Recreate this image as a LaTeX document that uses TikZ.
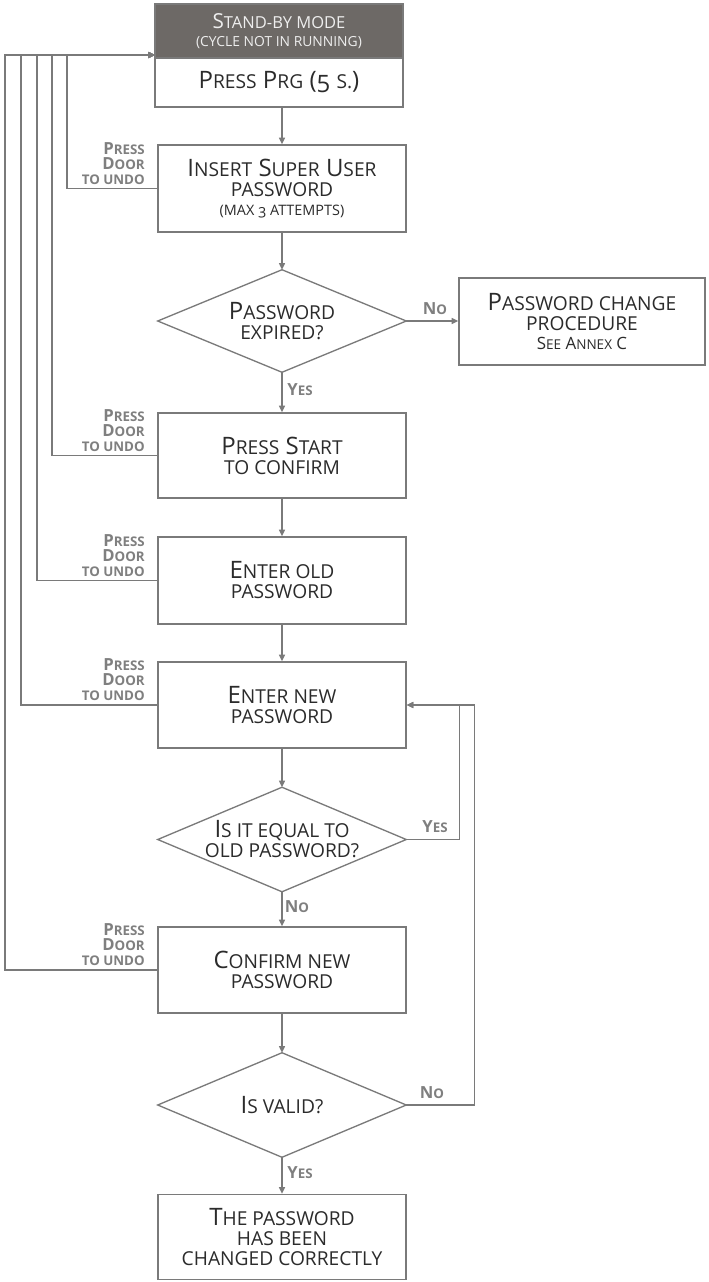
\documentclass[tikz,border=0pt]{standalone}
\usepackage{fontspec}
\setmainfont{Open Sans}[Numbers=OldStyle]
\usetikzlibrary{arrows.meta}
\definecolor{linec}{HTML}{7A7A7A}
\definecolor{txt}{HTML}{2B2B2B}
\definecolor{lab}{HTML}{7F7F7F}
\definecolor{headc}{HTML}{6D6966}
\definecolor{headtxt}{HTML}{EEEEEE}
\makeatletter
\newcommand\lc[1]{{\@tempdima=\f@size pt\relax\@tempdima=0.8\@tempdima\relax\fontsize{\the\@tempdima}{\f@baselineskip}\selectfont\MakeUppercase{#1}}}
\makeatother
\begin{document}
\begin{tikzpicture}[x=0.75pt,y=-0.75pt,
  line/.style={draw=linec, line width=1pt},
  arr/.style={line, -{Triangle[length=5pt,width=4.5pt]}},
  box/.style={draw=linec, line width=1pt, fill=white, minimum width=186pt, inner sep=0pt, align=center, text=txt, font=\fontsize{18}{15}\selectfont},
  dia/.style={minimum width=186pt, inner sep=0pt, align=center, text=txt, font=\fontsize{18}{15}\selectfont},
  undo/.style={anchor=south east, inner sep=0pt, align=right, text=lab, font=\bfseries\fontsize{12.5}{11.25}\selectfont},
  yn/.style={inner sep=0pt, text=lab, font=\bfseries\fontsize{12.5}{11.25}\selectfont}]
\useasboundingbox (0,0) rectangle (708,1282);

% boxes
\node[box, fill=headc, text=headtxt, minimum height=40.5pt, font=\fontsize{15.5}{13.5}\selectfont] (head) at (279,31) {S\lc{tand-by mode}\\{\fontsize{13}{13.5}\selectfont\lc{(cycle not in running)}}};
\node[box, minimum height=36.75pt] (prg) at (279,82.5) {P\lc{ress} P\lc{rg} (5 \lc{s.})};
\node[box, minimum height=65.25pt] (ins) at (282,188.5) {I\lc{nsert} S\lc{uper} U\lc{ser}\\\lc{password}\\[-1pt]{\fontsize{13.5}{15}\selectfont\lc{(max 3 attempts)}}};
\node[dia, minimum height=76.5pt] (d1) at (282,321) {P\lc{assword}\\\lc{expired?}};
\node[box, minimum width=184.5pt, minimum height=65.25pt] (chg) at (582,321.5) {P\lc{assword change}\\\lc{procedure}\\[-1pt]{\fontsize{12.7}{15}\selectfont S\lc{ee} A\lc{nnex} C}};
\node[box, minimum height=63.75pt] (start) at (282,455.5) {P\lc{ress} S\lc{tart}\\\lc{to confirm}};
\node[box, minimum height=65.25pt] (old) at (282,580.5) {E\lc{nter old}\\\lc{password}};
\node[box, minimum height=64.5pt] (new) at (282,705) {E\lc{nter new}\\\lc{password}};
\node[dia, minimum height=78pt] (d2) at (282,839.5) {I\lc{s it equal to}\\\lc{old password?}};
\node[box, minimum height=64.5pt] (conf) at (282,970) {C\lc{onfirm new}\\\lc{password}};
\node[dia, minimum height=78pt] (d3) at (282,1105) {I\lc{s valid?}};
\node[box, minimum height=63.75pt] (fin) at (282,1237) {T\lc{he password}\\\lc{has been}\\\lc{changed correctly}};

% diamonds
\draw[line] (d1.north) -- (d1.east) -- (d1.south) -- (d1.west) -- cycle;
\draw[line] (d2.north) -- (d2.east) -- (d2.south) -- (d2.west) -- cycle;
\draw[line] (d3.north) -- (d3.east) -- (d3.south) -- (d3.west) -- cycle;

% main flow
\draw[arr] (prg.south -| ins.north) -- (ins.north);
\draw[arr] (ins) -- (d1.north);
\draw[arr] (d1.east) -- (chg.west |- d1.east);
\draw[arr] (d1.south) -- (start.north);
\draw[arr] (start) -- (old);
\draw[arr] (old) -- (new);
\draw[arr] (new.south) -- (d2.north);
\draw[arr] (d2.south) -- (conf.north);
\draw[arr] (conf.south) -- (d3.north);
\draw[arr] (d3.south) -- (fin.north);
\draw[arr] (d2.east) -- ++(53,0) |- (new.east);
\draw[arr] (d3.east) -- ++(68,0) |- (new.east);

% returns to stand-by
\coordinate (entry) at (155,55);
\draw[arr] (ins.west) -| (67,55) -- (entry);
\draw[arr] (start.west) -| (52,55) -- (entry);
\draw[arr] (old.west) -| (37,55) -- (entry);
\draw[arr] (new.west) -| (21,55) -- (entry);
\draw[arr] (conf.west) -| (5,55) -- (entry);

% labels
\node[undo] (u1) at (145,184.5) {P\lc{ress}\\D\lc{oor}\\\lc{to undo}};
\node[undo] (u2) at (145,451.5) {P\lc{ress}\\D\lc{oor}\\\lc{to undo}};
\node[undo] (u3) at (145,576.5) {P\lc{ress}\\D\lc{oor}\\\lc{to undo}};
\node[undo] (u4) at (145,701) {P\lc{ress}\\D\lc{oor}\\\lc{to undo}};
\node[undo] (u5) at (145,966) {P\lc{ress}\\D\lc{oor}\\\lc{to undo}};

\node[yn] (n1) at (435,309) {N\lc{o}};
\node[yn] (y1) at (300,390) {Y\lc{es}};
\node[yn] (y2) at (435,827) {Y\lc{es}};
\node[yn] (n2) at (297,907) {N\lc{o}};
\node[yn] (n3) at (432,1093) {N\lc{o}};
\node[yn] (y3) at (300,1173) {Y\lc{es}};
\end{tikzpicture}
\end{document}
